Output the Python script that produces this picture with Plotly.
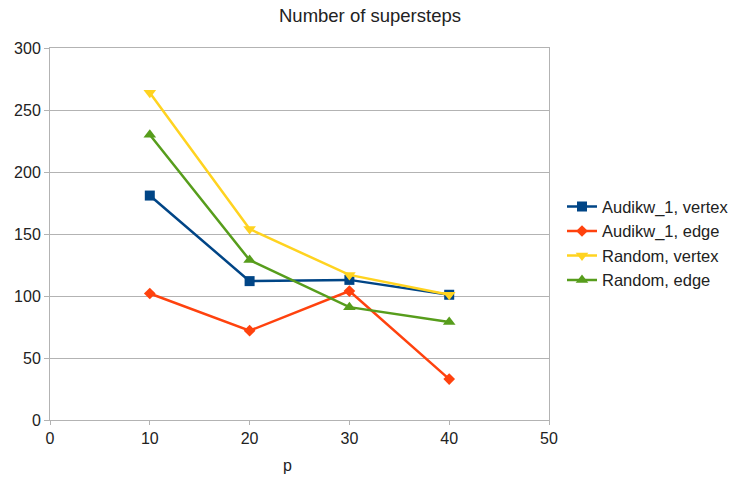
import plotly.graph_objects as go

# Number of processors
p = [10, 20, 30, 40]

# Supersteps per configuration
audikw_vertex = [181, 112, 113, 101]
audikw_edge = [102, 72, 104, 33]
random_vertex = [264, 154, 117, 101]
random_edge = [230, 129, 91, 79]

series = [
    ("Audikw_1, vertex", audikw_vertex, "#004586", "square", 10),
    ("Audikw_1, edge", audikw_edge, "#ff420e", "diamond", 9),
    ("Random, vertex", random_vertex, "#ffd320", "triangle-down", 11),
    ("Random, edge", random_edge, "#579d1c", "triangle-up", 11),
]

fig = go.Figure()
for name, vals, color, symbol, size in series:
    fig.add_trace(go.Scatter(
        x=p, y=vals, name=name, mode="lines+markers",
        line=dict(color=color, width=2.5),
        marker=dict(symbol=symbol, size=size, color=color),
    ))

FAMILY = "Liberation Sans, Arial, sans-serif"
axis_font = dict(family=FAMILY, size=16, color="#222")

fig.update_layout(
    width=738, height=479,
    margin=dict(l=50, r=189, t=48, b=59, autoexpand=False),
    paper_bgcolor="white", plot_bgcolor="white",
    font=axis_font,
    title=dict(text="Number of supersteps", x=370 / 738, xref="container", xanchor="center",
               y=1 - 16 / 479, yref="container", yanchor="middle",
               font=dict(family=FAMILY, size=18.5, color="#222")),
    legend=dict(x=(562 - 50) / 499, xanchor="left", y=0.475, yanchor="middle",
                font=dict(family=FAMILY, size=16.5, color="#222"),
                tracegroupgap=0, itemwidth=30, bgcolor="rgba(0,0,0,0)"),
    showlegend=True,
)

fig.update_xaxes(
    range=[0, 50], tickvals=[0, 10, 20, 30, 40, 50], showgrid=False,
    showline=True, linecolor="#b3b3b3", linewidth=1, mirror=True,
    ticks="outside", ticklen=4, tickcolor="#b3b3b3", zeroline=False,
    tickfont=axis_font,
)
fig.update_yaxes(
    range=[0, 300], tickvals=[0, 50, 100, 150, 200, 250, 300],
    showgrid=True, gridcolor="#b3b3b3", gridwidth=1,
    showline=True, linecolor="#b3b3b3", linewidth=1, mirror=True,
    ticks="outside", ticklen=5, tickcolor="#b3b3b3", zeroline=False,
    tickfont=axis_font,
)

# Axis title for processor count
fig.add_annotation(text="p", xref="paper", yref="paper",
                   x=(287 - 50) / 499, y=-45 / 372, xanchor="center", yanchor="middle",
                   showarrow=False, font=axis_font)

fig.write_html("out.html")
